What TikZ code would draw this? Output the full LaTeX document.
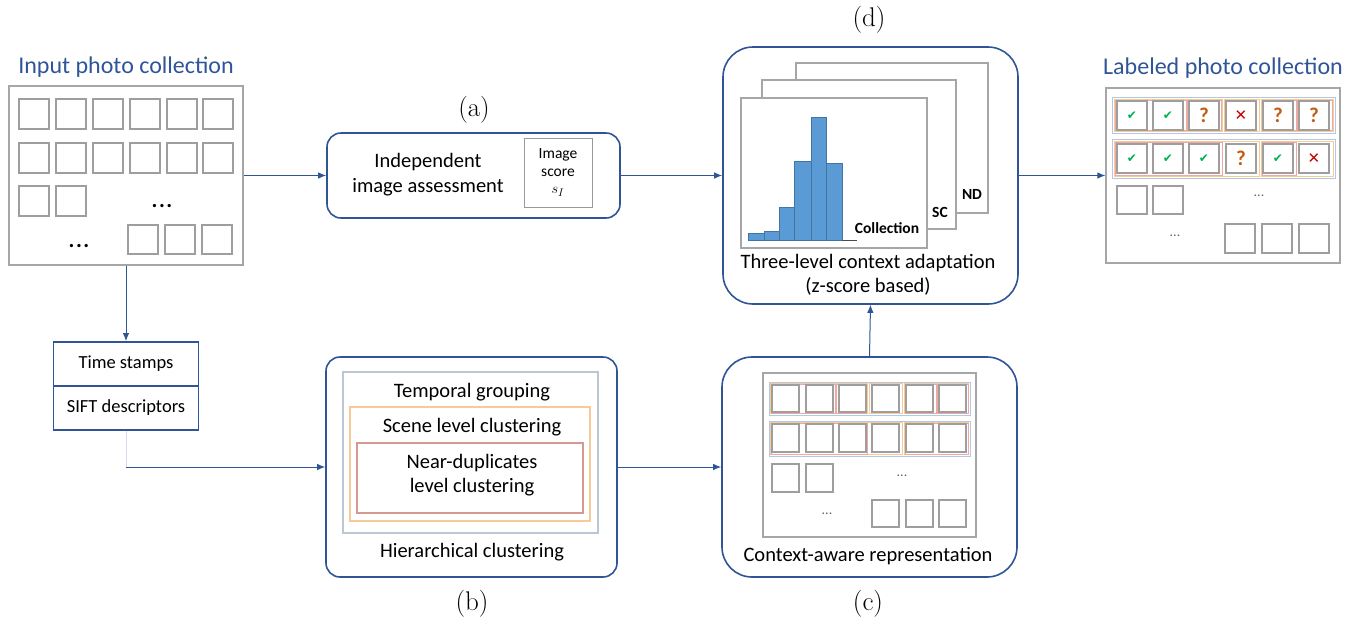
\documentclass[tikz,border=0pt]{standalone}
\usepackage{fontspec}
\newfontfamily\calib{Carlito}
\newfontfamily\djv{DejaVu Sans}
\usetikzlibrary{arrows.meta}
\definecolor{mblue}{RGB}{47,85,151}
\definecolor{tblue}{RGB}{47,85,151}
\definecolor{barblue}{RGB}{91,155,213}
\definecolor{grpblue}{RGB}{180,199,231}
\definecolor{grporange}{RGB}{248,203,150}
\definecolor{grpred}{RGB}{238,170,160}
\definecolor{okgreen}{RGB}{0,176,80}
\definecolor{qorange}{RGB}{197,90,17}
\definecolor{xred}{RGB}{192,0,0}
\newcommand\sqbox[4]{\draw[sqr] (#1,#2) rectangle ++(#3,#4);}
\newcommand\grpbox[5]{\draw[#5] (#1,#3) rectangle (#2,#4);}
\begin{document}
\begin{tikzpicture}[x=1pt,y=-1pt,
  bigbox/.style={draw=mblue, line width=1.6pt, rounded corners=14pt, fill=white},
  roundbox/.style={draw=mblue, line width=1.6pt, rounded corners=30pt, fill=white},
  arr/.style={draw=mblue, line width=1pt, -{Latex[length=8pt,width=6.5pt]}},
  sqr/.style={draw=black!38, line width=1.5pt},
  frame/.style={draw=black!35, line width=1.2pt, fill=white},
  txt/.style={font=\calib\fontsize{20.5}{24.5}\selectfont, align=center, inner sep=0pt},
  ttl/.style={font=\calib\fontsize{24}{28}\selectfont, text=tblue, inner sep=0pt},
  sub/.style={font=\fontsize{27}{30}\selectfont, inner sep=0pt},
  smalltxt/.style={font=\calib\fontsize{15.5}{17.5}\selectfont, align=center, inner sep=0pt},
  boldsm/.style={font=\calib\bfseries\fontsize{15.5}{17}\selectfont, inner sep=0pt},
  dots/.style={font=\calib\fontsize{14}{16}\selectfont, text=black!60, inner sep=0pt},
  bdots/.style={font=\calib\bfseries\fontsize{22}{24}\selectfont, inner sep=0pt},
  gb/.style={draw=grpblue, line width=1pt},
  go/.style={draw=grporange, line width=1pt},
  gr/.style={draw=grpred, line width=0.7pt},
  chk/.style={font=\djv\fontsize{12}{13}\selectfont, text=okgreen, inner sep=0pt},
  qm/.style={font=\calib\bfseries\fontsize{21}{22}\selectfont, text=qorange, inner sep=0pt},
  crs/.style={font=\djv\fontsize{15}{16}\selectfont, text=xred, inner sep=0pt},
]
\useasboundingbox (0,0) rectangle (1359,622);

% ---------- Input photo collection ----------
\node[ttl] (inptitle) at (126,67) {Input photo collection};
\node[draw=black!35, line width=1.2pt, minimum width=234, minimum height=179, inner sep=0pt] (inp) at (126,175.5) {};
\foreach \xx in {19,56,93,130,167,203}{
  \sqbox{\xx}{99}{30}{30}
  \sqbox{\xx}{143}{30}{30}
}
\sqbox{19}{186}{30}{30}
\sqbox{56}{186}{30}{30}
\sqbox{128}{225}{30}{29}
\sqbox{165}{225}{30}{29}
\sqbox{202}{225}{30}{29}
\node[bdots] (inpd1) at (162,206) {.\hspace{1.5pt}.\hspace{1.5pt}.};
\node[bdots] (inpd2) at (79,246) {.\hspace{1.5pt}.\hspace{1.5pt}.};

% ---------- (a) ----------
\node[sub] (la) at (474,110) {(a)};
\node[bigbox, minimum width=293, minimum height=85, inner sep=0pt] (a) at (473.5,175.5) {};
\node[txt] (ta) at (428,174.5) {Independent\\image assessment};
\node[draw=black!40, line width=1pt, minimum width=68, minimum height=69, inner sep=0pt] (isc) at (558,172.5) {};
\node[smalltxt] (isct) at (558,172.5) {Image\\score\\$s_I$};

% ---------- (d) ----------
\node[sub] (ld) at (869,20) {(d)};
\node[roundbox, minimum width=295, minimum height=257, inner sep=0pt] (d) at (870.5,175.5) {};
\node[frame, minimum width=192, minimum height=150, inner sep=0pt] (fnd) at (892,138) {};
\node[frame, minimum width=194, minimum height=149, inner sep=0pt] (fsc) at (859,154.5) {};
\node[frame, minimum width=186, minimum height=150, inner sep=0pt] (fcol) at (834,173) {};
\node[boldsm] (tnd) at (972,194) {ND};
\node[boldsm] (tsc) at (940,212) {SC};
\node[boldsm] (tcol) at (887,228) {Collection};
\foreach \xa/\xb/\yt in {748/764/233, 764/779/231, 779/794/207, 794/811/161, 811/826/117, 826/842/163}{
  \filldraw[fill=barblue, draw=barblue!75!black, line width=0.3pt] (\xa,240) rectangle (\xb,\yt);
}
\draw[black!70, line width=0.8pt] (842,240) -- (857,240);
\node[txt] (td) at (868,275) {Three-level context adaptation\\(z-score based)};

% ---------- Labeled photo collection ----------
\node[ttl] (labtitle) at (1223,68) {Labeled photo collection};
\node[draw=black!35, line width=1.2pt, minimum width=234, minimum height=175, inner sep=0pt] (lab) at (1223,175.5) {};
\grpbox{1112}{1335}{97}{133}{gb}
\grpbox{1112}{1335}{139}{178}{gb}
\grpbox{1114}{1222}{99}{131}{go}
\grpbox{1224}{1259}{99}{131}{go}
\grpbox{1261}{1333}{99}{131}{go}
\grpbox{1115}{1186}{100}{130.5}{gr}
\grpbox{1187}{1221}{100}{130.5}{gr}
\grpbox{1262}{1296}{100}{130.5}{gr}
\grpbox{1297}{1332}{100}{130.5}{gr}
\grpbox{1114}{1259}{141}{176}{go}
\grpbox{1261}{1333}{141}{176}{go}
\grpbox{1115}{1222}{142}{175}{gr}
\grpbox{1262}{1296}{142}{175}{gr}
\foreach \xx in {1117,1153,1189,1226,1263,1299}{
  \sqbox{\xx}{101}{30}{29}
  \sqbox{\xx}{144}{30}{29}
}
\sqbox{1117}{186}{30}{28}
\sqbox{1153}{186}{30}{28}
\sqbox{1225}{224}{30}{29}
\sqbox{1262}{224}{30}{29}
\sqbox{1299}{224}{30}{29}
\node[dots] (labd1) at (1259,196) {...};
\node[dots] (labd2) at (1175,236) {...};
% row 1 symbols
\node[chk] (s11) at (1132,116) {✔};
\node[chk] (s12) at (1168,116) {✔};
\node[qm] (s13) at (1204,115.5) {?};
\node[crs] (s14) at (1241,116) {✕};
\node[qm] (s15) at (1278,115.5) {?};
\node[qm] (s16) at (1314,115.5) {?};
% row 2 symbols
\node[chk] (s21) at (1132,159) {✔};
\node[chk] (s22) at (1168,159) {✔};
\node[chk] (s23) at (1204,159) {✔};
\node[qm] (s24) at (1241,158.5) {?};
\node[chk] (s25) at (1278,159) {✔};
\node[crs] (s26) at (1314,159) {✕};

% ---------- Time stamps ----------
\node[draw=mblue, line width=1.8pt, minimum width=145, minimum height=44, inner sep=0pt, font=\calib\fontsize{18.5}{20}\selectfont] (ts) at (126,364) {Time stamps};
\node[draw=mblue, line width=1.8pt, minimum width=145, minimum height=44, inner sep=0pt, font=\calib\fontsize{18.5}{20}\selectfont] (sift) at (126,408) {SIFT descriptors};

% ---------- (b) ----------
\node[bigbox, minimum width=291, minimum height=220, inner sep=0pt] (b) at (471.5,467) {};
\node[draw=grpblue!80!black!60, line width=1.2pt, minimum width=255, minimum height=161, inner sep=0pt] (ftemp) at (470.5,452.5) {};
\node[draw=grporange, line width=1.2pt, minimum width=240, minimum height=114, inner sep=0pt] (fscene) at (470,464) {};
\node[draw=grpred!90!black, line width=1.2pt, minimum width=226, minimum height=70, inner sep=0pt] (fnear) at (470,478) {};
\node[txt] (tt) at (472,392) {Temporal grouping};
\node[txt] (tsl) at (472,427) {Scene level clustering};
\node[txt] (tnl) at (472,475) {Near-duplicates\\level clustering};
\node[txt] (th) at (472,552) {Hierarchical clustering};
\node[sub] (lb) at (472,604) {(b)};

% ---------- (c) ----------
\node[roundbox, minimum width=295, minimum height=220, inner sep=0pt] (c) at (869.5,467) {};
\node[draw=black!35, line width=1.2pt, minimum width=213, minimum height=164, inner sep=0pt] (cin) at (869.5,455) {};
\grpbox{769}{970}{382}{415}{gb}
\grpbox{769}{970}{421}{456}{gb}
\grpbox{770.5}{867}{383.5}{413.5}{go}
\grpbox{869}{902}{383.5}{413.5}{go}
\grpbox{904}{968.5}{383.5}{413.5}{go}
\grpbox{771}{835}{384}{413}{gr}
\grpbox{836}{866}{384}{413}{gr}
\grpbox{905}{936}{384}{413}{gr}
\grpbox{937}{968}{384}{413}{gr}
\grpbox{770.5}{902}{422.5}{454.5}{go}
\grpbox{904}{968.5}{422.5}{454.5}{go}
\grpbox{771}{867}{423}{454}{gr}
\grpbox{905}{968}{423}{454}{gr}
\foreach \xx in {772,806,839,872,906,939}{
  \sqbox{\xx}{385}{27}{27}
  \sqbox{\xx}{424}{27}{28}
}
\sqbox{772}{464}{27}{28}
\sqbox{806}{464}{27}{28}
\sqbox{872}{500}{27}{27}
\sqbox{906}{500}{27}{27}
\sqbox{939}{500}{27}{27}
\node[dots] (cd1) at (902,476) {...};
\node[dots] (cd2) at (827,514) {...};
\node[txt] (tc) at (868,556) {Context-aware representation};
\node[sub] (lc) at (868,604) {(c)};

% ---------- connectors ----------
\draw[arr] (inp.east) -- (a.west);
\draw[arr] (a.east) -- (d.west);
\draw[arr] (d.east) -- (lab.west);
\draw[arr] (inp.south) -- (ts.north);
\coordinate (corner) at (sift.south |- b.west);
\draw[draw=mblue!20, line width=1pt] (sift.south) -- (corner);
\draw[arr] (corner) -- (b.west);
\draw[arr] (b.east) -- (c.west);
\draw[arr] (c.north) -- (d.south);
\end{tikzpicture}
\end{document}
